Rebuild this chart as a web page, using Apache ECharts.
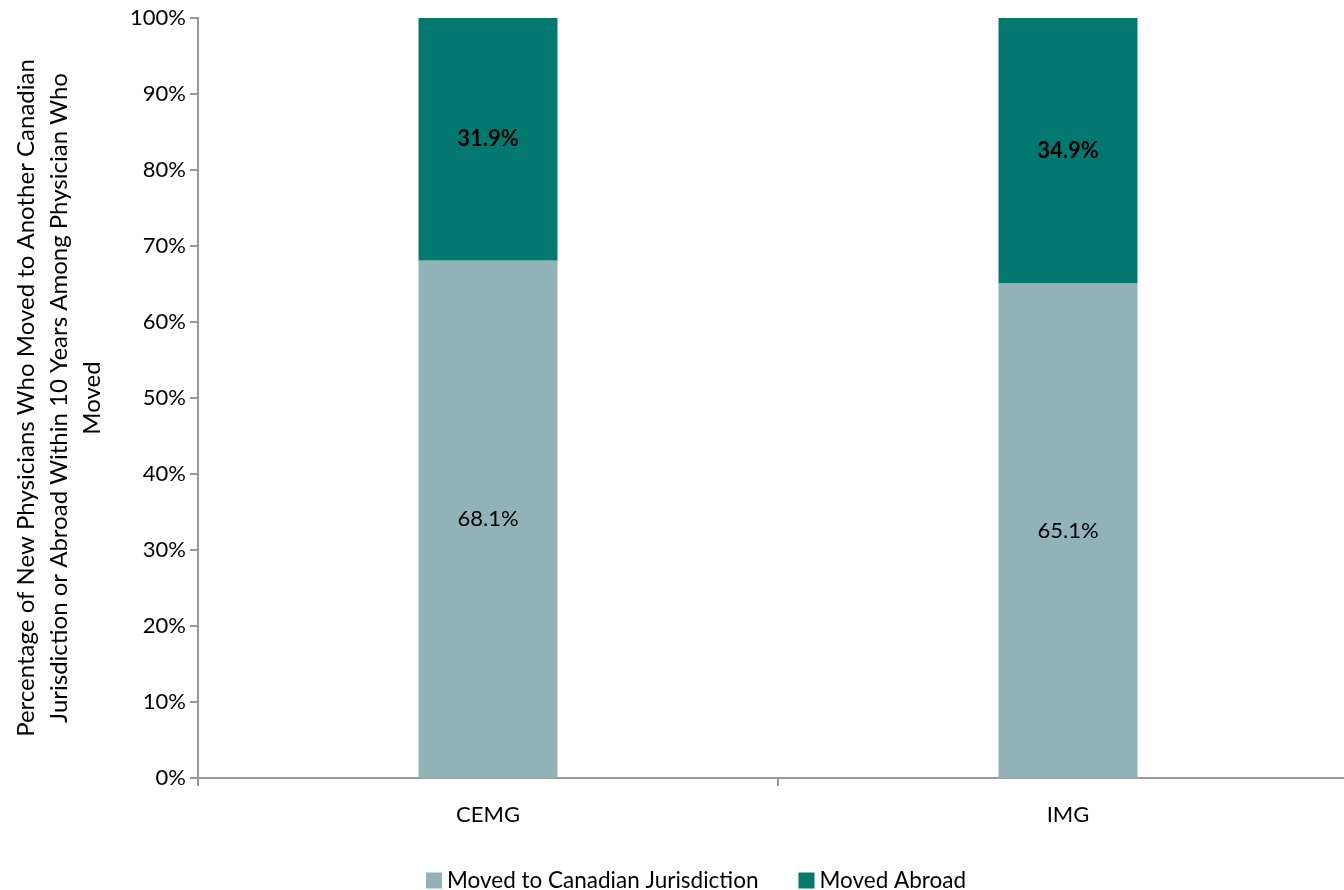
<!DOCTYPE html>
<html>
<head>
<meta charset="utf-8">
<script src="https://cdn.jsdelivr.net/npm/echarts@6/dist/echarts.min.js"></script>
<style>html,body{margin:0;padding:0;background:#fff;overflow:hidden}#c{width:1358px;height:890px}</style>
</head>
<body>
<div id="c"></div>
<script>
const categories = ['CEMG', 'IMG'];
const movedCanadian = [68.1, 65.1];
const movedAbroad = [31.9, 34.9];
const seriesNames = ['Moved to Canadian Jurisdiction', 'Moved Abroad'];
const yTitle = 'Percentage of New Physicians Who Moved to Another Canadian\nJurisdiction or Abroad Within 10 Years Among Physician Who\nMoved';

const FONT = 'Lato';
const FS = 22;
const chart = echarts.init(document.getElementById('c'));
chart.setOption({
  animation: false,
  textStyle: { fontFamily: FONT },
  grid: { left: 198, right: 0, top: 18, bottom: 112 },
  legend: {
    top: 869, left: 426, padding: 0,
    itemWidth: 16, itemHeight: 16, itemGap: 40,
    icon: 'rect',
    textStyle: { fontFamily: FONT, fontSize: 22.5, color: '#000' },
    data: seriesNames
  },
  graphic: [{
    type: 'text', x: 59, y: 398, rotation: Math.PI / 2,
    style: { text: yTitle, fontFamily: FONT, fontSize: 24, fill: '#000',
      textAlign: 'center', textVerticalAlign: 'middle', lineHeight: 33 }
  }],
  xAxis: {
    type: 'category', data: categories,
    axisLine: { lineStyle: { color: '#999', width: 2 } },
    axisTick: { show: true, length: 8, lineStyle: { color: '#999', width: 2 } },
    axisLabel: { color: '#000', fontSize: FS, margin: 26, fontFamily: FONT }
  },
  yAxis: {
    type: 'value', min: 0, max: 100, interval: 10,
    axisLine: { show: true, lineStyle: { color: '#999', width: 2 } },
    axisTick: { show: true, length: 8, lineStyle: { color: '#999', width: 2 } },
    splitLine: { show: false },
    axisLabel: { formatter: '{value}%', color: '#000', fontSize: FS, margin: 12, fontFamily: FONT }
  },
  series: [
    {
      name: seriesNames[0], type: 'bar', stack: 's', barWidth: 139,
      data: movedCanadian,
      itemStyle: { color: '#91B3B8' },
      label: { show: true, position: 'inside', formatter: p => p.value.toFixed(1) + '%',
        color: '#000', fontSize: FS, fontFamily: FONT }
    },
    {
      name: seriesNames[1], type: 'bar', stack: 's', barWidth: 139,
      data: movedAbroad,
      itemStyle: { color: '#037870' },
      label: { show: true, position: 'inside', formatter: p => p.value.toFixed(1) + '%',
        color: '#000', fontSize: FS, fontWeight: 'bold', fontFamily: FONT }
    }
  ]
});
</script>
</body>
</html>
